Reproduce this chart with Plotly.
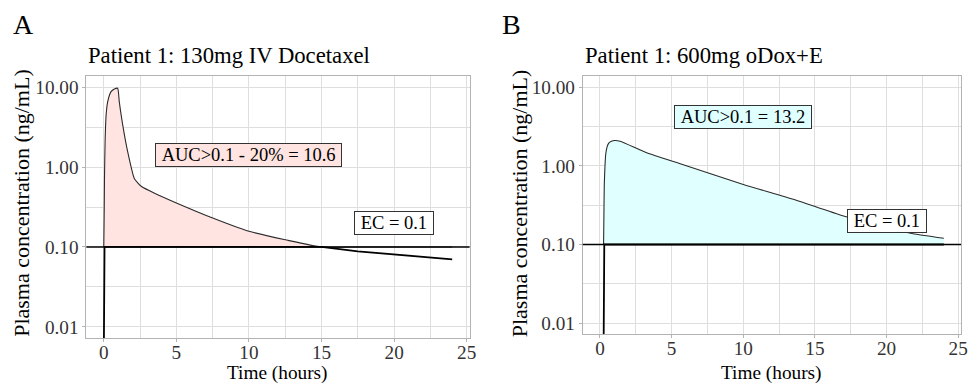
import numpy as np
import plotly.graph_objects as go

# ---------------- data ----------------
EC = 0.1

time_a = [0.0, 0.03, 0.05, 0.09, 0.16, 0.27, 0.5, 0.73, 0.95, 1.07, 1.3, 1.64, 2.1, 2.35, 2.6,
          3.5, 5.0, 7.5, 10.0, 12.5, 15.0, 17.5, 20.0, 24.0]
conc_a = [0.004, 0.3, 0.8, 2.1, 4.5, 6.6, 8.8, 9.5, 9.7, 6.5, 3.4, 1.57, 0.72, 0.63, 0.57,
          0.47, 0.355, 0.23, 0.157, 0.123, 0.100, 0.088, 0.080, 0.070]

time_b = [0.25, 0.27, 0.30, 0.35, 0.40, 0.50, 0.60, 0.80, 1.03, 1.40, 3.3, 5.6, 10.0, 13.6,
          17.0, 21.6, 24.0]
conc_b = [0.004, 0.2, 0.57, 1.0, 1.4, 1.75, 1.93, 2.05, 2.09, 2.05, 1.45, 1.06, 0.58, 0.37,
          0.23, 0.14, 0.12]

titles = ["Patient 1: 130mg IV Docetaxel", "Patient 1: 600mg oDox+E"]
panel_letters = ["A", "B"]
x_title = "Time (hours)"
y_title = "Plasma concentration (ng/mL)"
auc_labels = ["AUC>0.1 - 20% = 10.6", "AUC>0.1 = 13.2"]
auc_label_pos = [(10.0, 1.43), (10.0, 4.2)]
ec_label = "EC = 0.1"
ec_label_pos = [(20.0, 0.2), (20.0, 0.2)]
fill_colors = ["#FFE4E1", "#E0FFFF"]

x_ticks = [0, 5, 10, 15, 20, 25]
x_minor = [2.5, 7.5, 12.5, 17.5, 22.5]
y_ticks = [0.01, 0.1, 1, 10]
y_ticktext = ["0.01", "0.10", "1.00", "10.00"]
y_minor = [10 ** -1.5, 10 ** -0.5, 10 ** 0.5]

# ---------------- figure ----------------
W, H = 976, 386
FONT = "Liberation Serif"
GRID = "#DEDEDE"
BORDER = "#B3B3B3"
TICKFONT = dict(family=FONT, size=19.2, color="#333333")
NB = "&nbsp;"

fig = go.Figure()

series = [(time_a, conc_a), (time_b, conc_b)]
xdomains = [(87 / W, 473 / W), (587 / W, 968 / W)]
ydomains = [(1 - 338 / H, 1 - 76 / H), (1 - 334.3 / H, 1 - 76 / H)]
ytitle_x = [21 / W, 523 / W]

for i, (t, c) in enumerate(series):
    xa = "x" if i == 0 else "x2"
    ya = "y" if i == 0 else "y2"
    c = np.array(c)
    base = np.full(len(t), EC)
    # baseline for fill
    fig.add_trace(go.Scatter(x=t, y=base, mode="lines", line=dict(width=0, color="rgba(0,0,0,0)"),
                             xaxis=xa, yaxis=ya, showlegend=False, hoverinfo="skip"))
    # filled area above EC
    fig.add_trace(go.Scatter(x=t, y=np.maximum(c, EC), mode="lines", fill="tonexty",
                             fillcolor=fill_colors[i],
                             line=dict(width=1.1, color="#2b2b2b", shape="spline", smoothing=0.6),
                             xaxis=xa, yaxis=ya, showlegend=False))
    # thick part of curve below EC
    fig.add_trace(go.Scatter(x=t, y=np.minimum(c, EC), mode="lines",
                             line=dict(width=1.8, color="black"),
                             xaxis=xa, yaxis=ya, showlegend=False))

    fig.add_shape(type="line", xref=f"{xa} domain", yref=ya, x0=0, x1=1, y0=EC, y1=EC,
                  line=dict(color="black", width=1.6), layer="above")

    # annotations
    ax, ay = auc_label_pos[i]
    fig.add_annotation(x=ax, y=np.log10(ay), xref=xa, yref=ya, text=NB + auc_labels[i] + NB,
                       showarrow=False,
                       font=dict(family=FONT, size=18.5, color="black"), bgcolor=fill_colors[i],
                       bordercolor="#333333", borderwidth=1, borderpad=1)
    ex, ey = ec_label_pos[i]
    fig.add_annotation(x=ex, y=np.log10(ey), xref=xa, yref=ya, text=NB + ec_label + NB,
                       showarrow=False,
                       font=dict(family=FONT, size=18.5, color="black"), bgcolor="white",
                       bordercolor="#333333", borderwidth=1, borderpad=1)

    # titles and panel letters
    fig.add_annotation(x=xdomains[i][0], y=1 - 56 / H, xref="paper", yref="paper", text=titles[i],
                       showarrow=False, xanchor="left", yanchor="middle",
                       font=dict(family=FONT, size=22.7, color="black"))
    fig.add_annotation(x=(11 if i == 0 else 504) / W, y=1 - 24 / H, xref="paper", yref="paper",
                       text=panel_letters[i], showarrow=False, xanchor="left", yanchor="middle",
                       font=dict(family=FONT, size=28, color="black"))

    # axis titles
    fig.add_annotation(x=(xdomains[i][0] + xdomains[i][1]) / 2, y=0, xref="paper",
                       yref="paper", text=x_title, showarrow=False, xanchor="center",
                       yanchor="bottom", font=dict(family=FONT, size=19.3, color="black"))
    fig.add_annotation(x=ytitle_x[i], y=1 - 203 / H, xref="paper", yref="paper", text=y_title,
                       textangle=-90, showarrow=False, xanchor="center", yanchor="middle",
                       font=dict(family=FONT, size=22, color="black"))

    xkey = "xaxis" if i == 0 else "xaxis2"
    ykey = "yaxis" if i == 0 else "yaxis2"
    fig.layout[xkey] = dict(
        domain=list(xdomains[i]), anchor=ya, range=[-1.2, 25.2],
        tickmode="array", tickvals=x_ticks, ticktext=[str(v) for v in x_ticks],
        minor=dict(tickmode="array", tickvals=x_minor, showgrid=True, gridcolor=GRID, gridwidth=0.6, ticks=""),
        showgrid=True, gridcolor=GRID, gridwidth=1, zeroline=False,
        showline=True, linecolor=BORDER, linewidth=1, mirror=True,
        ticks="outside", ticklen=3, tickcolor=BORDER, tickfont=TICKFONT,
        ticklabelstandoff=-6,
    )
    fig.layout[ykey] = dict(
        domain=list(ydomains[i]), anchor=xa, type="log", range=[-2.14, 1.14],
        tickmode="array", tickvals=y_ticks, ticktext=y_ticktext,
        minor=dict(tickmode="array", tickvals=y_minor, showgrid=True, gridcolor=GRID, gridwidth=0.6, ticks=""),
        showgrid=True, gridcolor=GRID, gridwidth=1, zeroline=False,
        showline=True, linecolor=BORDER, linewidth=1, mirror=True,
        ticks="outside", ticklen=3, tickcolor=BORDER, tickfont=TICKFONT,
    )

fig.update_layout(width=W, height=H, margin=dict(l=0, r=0, t=0, b=0),
                  paper_bgcolor="white", plot_bgcolor="white", showlegend=False)

fig.write_html("out.html")
